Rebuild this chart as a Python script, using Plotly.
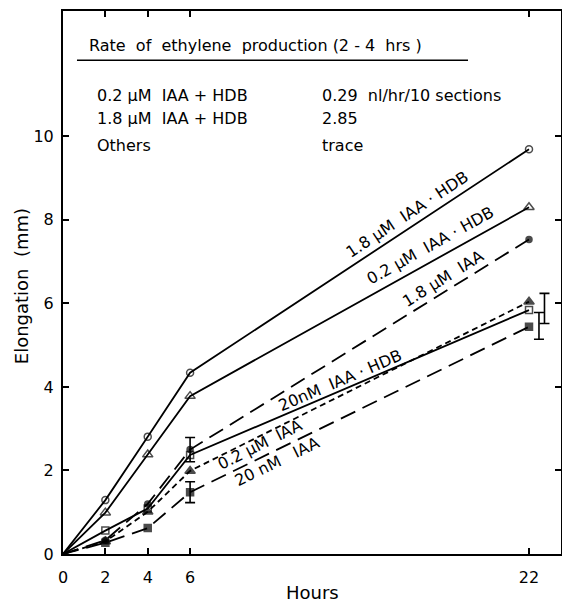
import plotly.graph_objects as go

# ---------------- data ----------------
hours = [0, 2, 4, 6, 22]
iaa_hdb_1_8uM = [0, 1.29, 2.81, 4.34, 9.69]
iaa_hdb_0_2uM = [0, 0.99, 2.38, 3.78, 8.30]
iaa_1_8uM = [0, 0.33, 1.20, 2.50, 7.53]
iaa_hdb_20nM = [0, 0.56, 1.09, 2.37, 5.84]
iaa_0_2uM = [0, 0.30, 1.01, 1.99, 6.04]
iaa_20nM = [0, 0.27, 0.62, 1.48, 5.44]

# error bars (hour, value, +/-)
err_6h_iaa_1_8 = (6, 2.50, 0.29)
err_6h_iaa_20n = (6, 1.48, 0.25)
err_22h_hdb_20n = (22, 5.88, 0.36)
err_22h_iaa_20n = (22, 5.46, 0.32)

x_ticks = [0, 2, 4, 6, 22]
y_ticks = [0, 2, 4, 6, 8, 10]

table_rows = [
    ("0.2\u00a0\u03bcM\u00a0\u00a0IAA\u00a0+\u00a0HDB", "0.29\u00a0\u00a0nl/hr/10\u00a0sections"),
    ("1.8\u00a0\u03bcM\u00a0\u00a0IAA\u00a0+\u00a0HDB", "2.85"),
    ("Others", "trace"),
]

FONT = "DejaVu Sans"
BLACK = "#000000"

fig = go.Figure()


def add_series(y, symbol, size, dash):
    sizes = [0] + [size] * (len(y) - 1)
    fig.add_trace(go.Scatter(
        x=hours, y=y, mode="lines+markers",
        line=dict(color=BLACK, width=1.8, dash=dash),
        marker=dict(symbol=symbol, size=sizes, color=BLACK,
                    line=dict(color=BLACK, width=1.5)),
        cliponaxis=False, showlegend=False,
    ))


LONG = "16px,8px"
SHORT = "6px,4px"
add_series(iaa_hdb_1_8uM, "circle-open", 7, "solid")
add_series(iaa_hdb_0_2uM, "triangle-up-open", 9, "solid")
add_series(iaa_1_8uM, "circle", 6, LONG)
add_series(iaa_hdb_20nM, "square-open", 7, "solid")
add_series(iaa_0_2uM, "triangle-up", 9, SHORT)
add_series(iaa_20nM, "square", 7, LONG)

BAR_SHIFT_A = 0.73
BAR_SHIFT_B = 0.47
for (hx, val, err), shift in [(err_6h_iaa_1_8, 0), (err_6h_iaa_20n, 0),
                              (err_22h_hdb_20n, BAR_SHIFT_A),
                              (err_22h_iaa_20n, BAR_SHIFT_B)]:
    fig.add_trace(go.Scatter(
        x=[hx + shift], y=[val], mode="markers",
        marker=dict(size=1, color="rgba(0,0,0,0)"),
        error_y=dict(type="constant", value=err, color=BLACK,
                     thickness=1.6, width=5),
        cliponaxis=False, showlegend=False,
    ))

# ---------- line labels ----------
labels = [
    ("1.8\u00a0\u03bcM\u00a0\u00a0IAA\u00a0\u00b7\u00a0HDB", 16.24, 8.13, -33.5),
    ("0.2\u00a0\u03bcM\u00a0\u00a0IAA\u00a0\u00b7\u00a0HDB", 17.33, 7.39, -29.1),
    ("1.8\u00a0\u03bcM\u00a0\u00a0IAA", 17.94, 6.60, -31.8),
    ("20nM\u00a0\u00a0IAA\u00a0\u00b7\u00a0HDB", 13.08, 4.16, -23.2),
    ("0.2\u00a0\u03bcM\u00a0\u00a0IAA", 9.3, 2.62, -26.6),
    ("20\u00a0nM\u00a0\u00a0\u00a0IAA", 10.1, 2.22, -26.0),
]
for text, lx, ly, ang in labels:
    fig.add_annotation(x=lx, y=ly, xref="x", yref="y", text=text,
                       showarrow=False, textangle=ang,
                       font=dict(family=FONT, size=16, color=BLACK))

# ---------- top table ----------
fig.add_annotation(x=1.13, y=12.18, xref="x", yref="y", xanchor="left",
                   yanchor="middle", showarrow=False,
                   text="Rate\u00a0\u00a0of\u00a0\u00a0ethylene\u00a0\u00a0production\u00a0(2\u00a0-\u00a04\u00a0\u00a0hrs\u00a0)",
                   font=dict(family=FONT, size=16, color=BLACK))
fig.add_shape(type="line", xref="x", yref="y", x0=0.66, x1=19.12,
              y0=11.82, y1=11.82, line=dict(color=BLACK, width=1.5))
row_y = [10.98, 10.43, 9.78]
for (left, right), ry in zip(table_rows, row_y):
    fig.add_annotation(x=1.51, y=ry, xref="x", yref="y", xanchor="left",
                       yanchor="middle", showarrow=False, text=left,
                       font=dict(family=FONT, size=16, color=BLACK))
    fig.add_annotation(x=12.13, y=ry, xref="x", yref="y", xanchor="left",
                       yanchor="middle", showarrow=False, text=right,
                       font=dict(family=FONT, size=16, color=BLACK))

# ---------- axis titles ----------
fig.add_annotation(x=0.5, y=-0.07, xref="paper", yref="paper",
                   text="Hours", showarrow=False, yanchor="middle",
                   font=dict(family=FONT, size=18, color=BLACK))
fig.add_annotation(x=-0.084, y=0.4935, xref="paper", yref="paper",
                   text="Elongation\u00a0\u00a0(mm)", showarrow=False,
                   textangle=-90, xanchor="center", yanchor="middle",
                   font=dict(family=FONT, size=18, color=BLACK))

axis_common = dict(showgrid=False, zeroline=False, showline=True,
                   linecolor=BLACK, linewidth=2, ticks="inside",
                   ticklen=6, tickwidth=1.5, tickcolor=BLACK, mirror="ticks",
                   tickfont=dict(family=FONT, size=16, color=BLACK))
fig.update_xaxes(range=[0, 23.51], tickmode="array", tickvals=x_ticks,
                 ticktext=[str(v) for v in x_ticks], ticklabelstandoff=8,
                 **axis_common)
fig.update_yaxes(range=[0, 13], tickmode="array", tickvals=y_ticks,
                 ticktext=[str(v) for v in y_ticks], ticklabelstandoff=4,
                 **axis_common)

fig.update_layout(width=562, height=603,
                  margin=dict(l=63, r=1, t=11, b=49, autoexpand=False),
                  paper_bgcolor="white", plot_bgcolor="white",
                  showlegend=False)

fig.write_html("out.html")
